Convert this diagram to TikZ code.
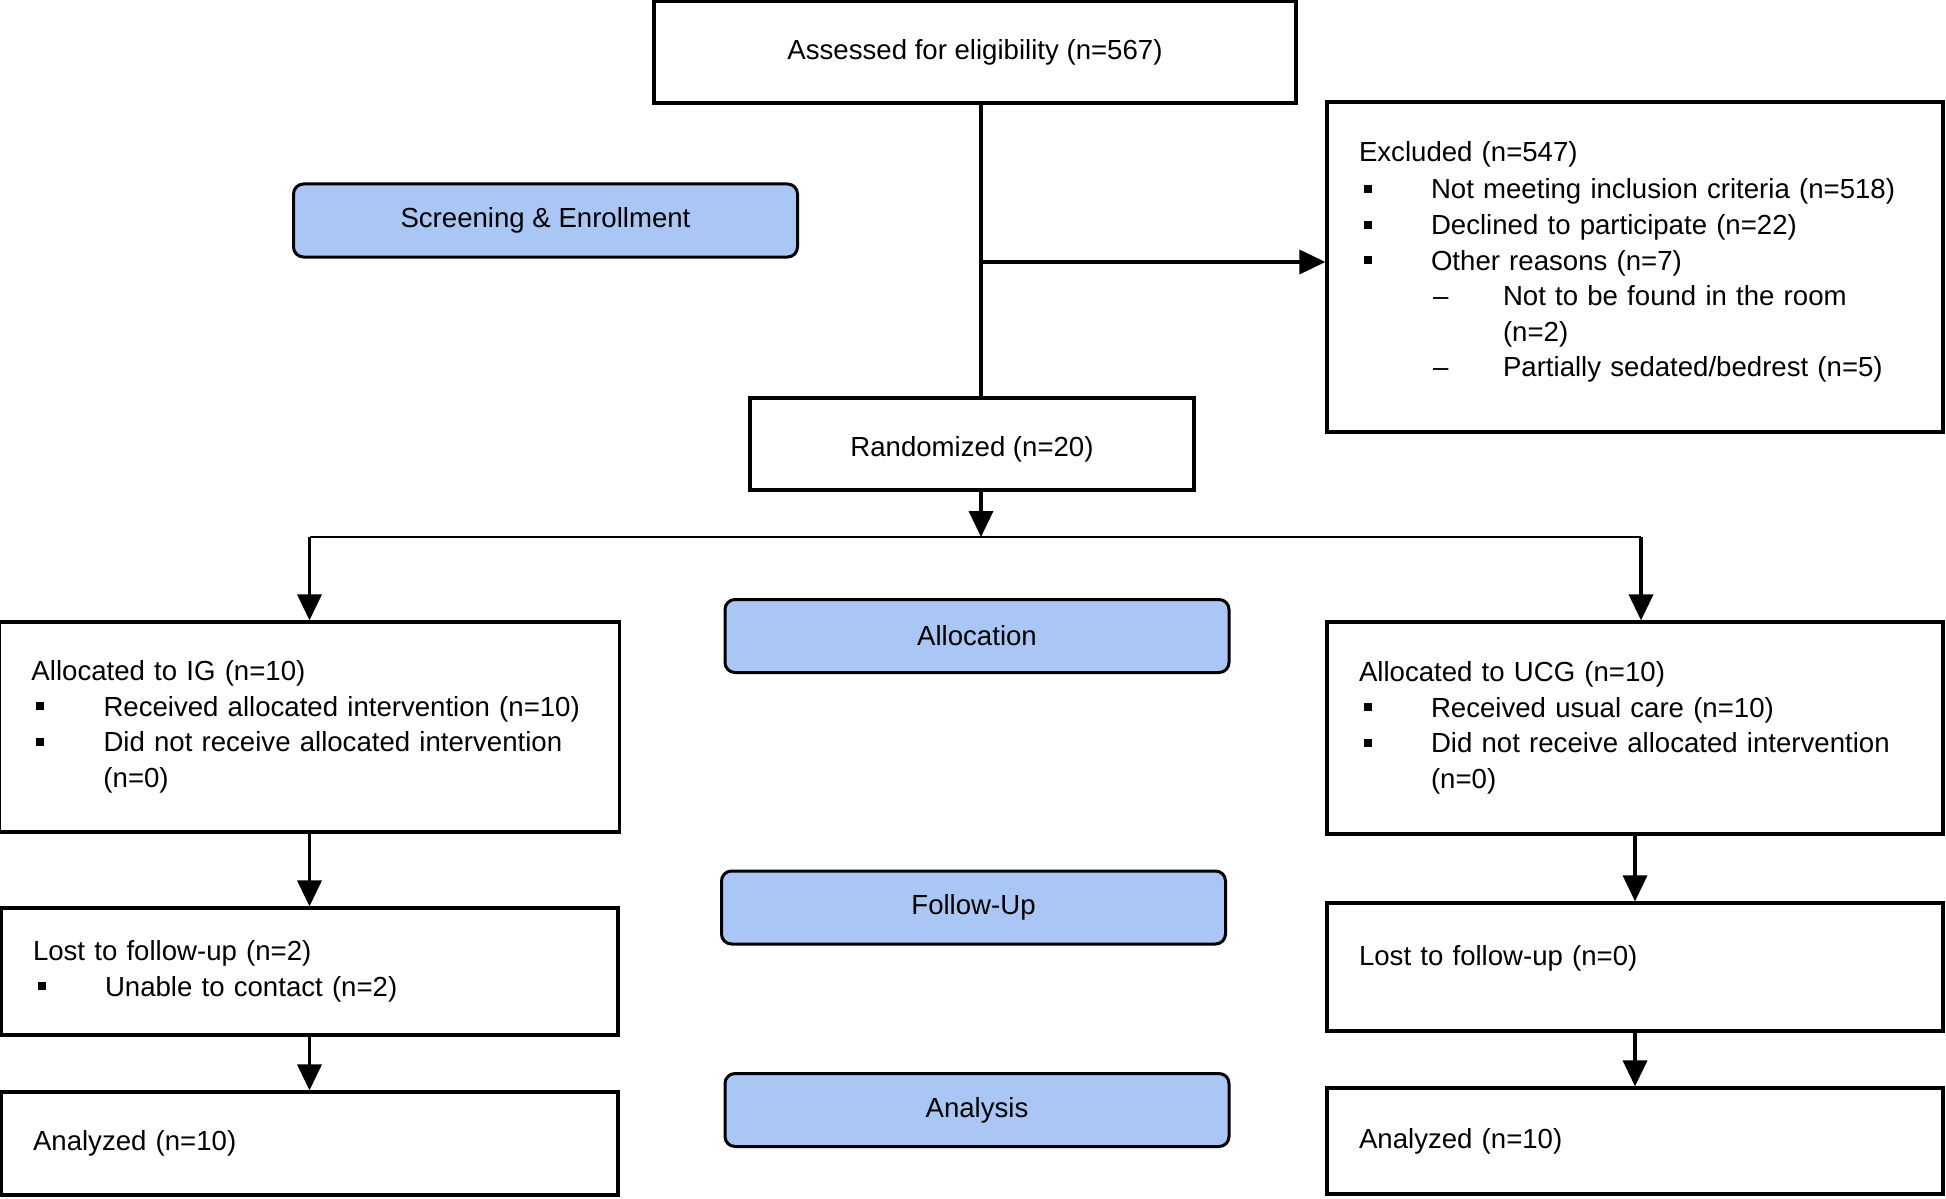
\documentclass[tikz,border=0pt]{standalone}
\usepackage{fontspec}
\setmainfont{Liberation Sans}
\usetikzlibrary{arrows.meta,calc}
\definecolor{phasecol}{RGB}{170,198,245}
\newcommand\sqb{\makebox[36pt][l]{\hspace{2.5pt}\rule[3pt]{4pt}{4pt}}}
\newcommand\dsh{\makebox[36pt][l]{\hspace{1pt}–}}
\newcommand\ind{\hspace*{36pt}}
\begin{document}
\begin{tikzpicture}[x=0.5pt,y=-0.5pt,
  font=\fontsize{13.8}{17.8}\selectfont,
  box/.style={draw, line width=1.6pt, inner xsep=16pt, inner ysep=0pt, align=left},
  cbox/.style={draw, line width=1.6pt, inner sep=0pt, align=center},
  phase/.style={draw, line width=1.5pt, rounded corners=5pt, fill=phasecol, inner sep=0pt, minimum width=252pt, minimum height=36.5pt},
  arr/.style={line width=1.8pt, -{Triangle[width=12pt,length=13pt]}},
  ln/.style={line width=1.8pt},
  thinln/.style={line width=1pt}]
\useasboundingbox (0,0) rectangle (1946,1198);

% boxes
\node[cbox, minimum width=321pt, minimum height=51pt] (top) at (975,52) {Assessed for eligibility (n=567)};
\node[phase] (screen) at (545.5,220.5) {Screening \& Enrollment};
\node[box, text width=276pt, minimum height=165pt] (excl) at (1635,267) {Excluded (n=547)\\[1pt]
\sqb Not meeting inclusion criteria (n=518)\\
\sqb Declined to participate (n=22)\\
\sqb Other reasons (n=7)\\
\ind\dsh Not to be found in the room\\
\ind\ind (n=2)\\
\ind\dsh Partially sedated/bedrest (n=5)\\[-10pt]\mbox{}};
\node[cbox, minimum width=222pt, minimum height=46pt, text height=14.2pt, text depth=2pt] (rand) at (972,444) {Randomized (n=20)};

\node[box, text width=278pt, minimum height=105pt] (ig) at (309.5,727) {Allocated to IG (n=10)\\
\sqb Received allocated intervention (n=10)\\
\sqb Did not receive allocated intervention\\
\ind (n=0)};
\node[phase] (alloc) at (977,636) {Allocation};
\node[box, text width=276pt, minimum height=106pt] (ucg) at (1635,728) {Allocated to UCG (n=10)\\
\sqb Received usual care (n=10)\\
\sqb Did not receive allocated intervention\\
\ind (n=0)};

\node[box, text width=276.5pt, minimum height=63.5pt] (lostig) at (309.5,971.5) {Lost to follow-up (n=2)\\
\sqb Unable to contact (n=2)};
\node[phase] (fu) at (973.5,907.5) {Follow-Up};
\node[box, text width=276pt, minimum height=64pt] (lostucg) at (1635,967) {Lost to follow-up (n=0)\\[-6.6pt]\mbox{}};

\node[box, text width=276.5pt, minimum height=51.5pt] (anig) at (309.5,1143.5) {Analyzed (n=10)};
\node[phase] (an) at (977,1110) {Analysis};
\node[box, text width=276pt, minimum height=53pt] (anucg) at (1635,1141) {Analyzed (n=10)};

% connectors
\coordinate (sp) at (981,0);
\coordinate (split) at (981,537);
\coordinate (hl) at (309.5,537);
\coordinate (hr) at (1641,537);
\draw[ln] (top.south -| sp) -- (rand.north -| sp);
\draw[arr] ($(excl.west -| sp)+(0,-5)$) -- ($(excl.west)+(0,-5)$);
\draw[arr] (rand.south -| sp) -- (split);
\draw[thinln] (hl) -- (hr);
\draw[arr] (hl) -- (ig.north);
\draw[arr] (hr) -- (ucg.north -| hr);
\draw[arr] (ig.south) -- (lostig.north);
\draw[arr] (lostig.south) -- (anig.north);
\draw[arr] (ucg.south) -- (lostucg.north);
\draw[arr] (lostucg.south) -- (anucg.north);
\end{tikzpicture}
\end{document}
